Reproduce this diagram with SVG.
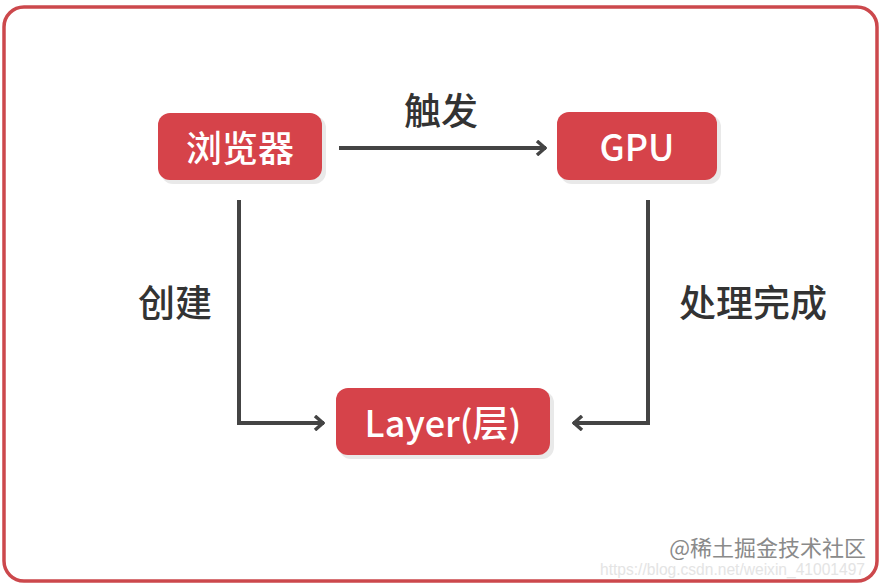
<svg xmlns="http://www.w3.org/2000/svg" width="883" height="586" viewBox="0 0 883 586">
<defs>
<style>
.node rect.bg{fill:#d6434a;}
.node rect.sh{fill:#e9e9e9;}
.node text{fill:#ffffff;font-family:"Noto Sans CJK SC","Noto Sans",sans-serif;font-weight:500;font-size:36px;text-anchor:middle;dominant-baseline:central;}
.lbl{fill:#333333;font-family:"Noto Sans CJK SC",sans-serif;font-weight:500;font-size:37px;text-anchor:middle;dominant-baseline:central;}
.conn{fill:none;stroke:#444444;stroke-width:4;}
</style>
<marker id="arr" viewBox="0 0 12 16" refX="11" refY="8" markerWidth="12" markerHeight="16" markerUnits="userSpaceOnUse" orient="auto">
<path d="M2,1 L10,8 L2,15" fill="none" stroke="#444444" stroke-width="3.5"/>
</marker>
</defs>
<rect x="0" y="0" width="883" height="586" fill="#ffffff"/>
<rect x="4" y="7" width="873" height="574" rx="20" fill="#ffffff" stroke="#cc484c" stroke-width="3.5"/>
<g id="connectors">
<line class="conn" x1="339" y1="148" x2="546" y2="148" marker-end="url(#arr)"/>
<polyline class="conn" points="239,200 239,423 324,423" marker-end="url(#arr)"/>
<polyline class="conn" points="648,200 648,423 573,423" marker-end="url(#arr)"/>
</g>
<text class="lbl" x="441" y="109">触发</text>
<text class="lbl" x="175" y="301">创建</text>
<text class="lbl" x="753" y="301">处理完成</text>
<g id="browser" class="node">
<rect class="sh" x="161" y="116" width="165" height="68" rx="12"/>
<rect class="bg" x="158" y="113" width="164" height="67" rx="12"/>
<text x="240" y="146">浏览器</text>
</g>
<g id="gpu" class="node">
<rect class="sh" x="560" y="115" width="161" height="69" rx="12"/>
<rect class="bg" x="557" y="112" width="160" height="68" rx="12"/>
<text x="637" y="145">GPU</text>
</g>
<g id="layer" class="node">
<rect class="sh" x="339" y="391" width="215" height="68" rx="12"/>
<rect class="bg" x="336" y="388" width="214" height="67" rx="12"/>
<text x="443" y="421">Layer(层)</text>
</g>
<text x="600" y="575" fill="#e4e4e4" font-family="Liberation Sans,sans-serif" font-size="16" textLength="265" lengthAdjust="spacingAndGlyphs">https://blog.csdn.net/weixin_41001497</text>
<text x="866" y="556" fill="#8a8a8a" font-family="Noto Sans CJK SC,sans-serif" font-size="22" text-anchor="end">@稀土掘金技术社区</text>
</svg>
